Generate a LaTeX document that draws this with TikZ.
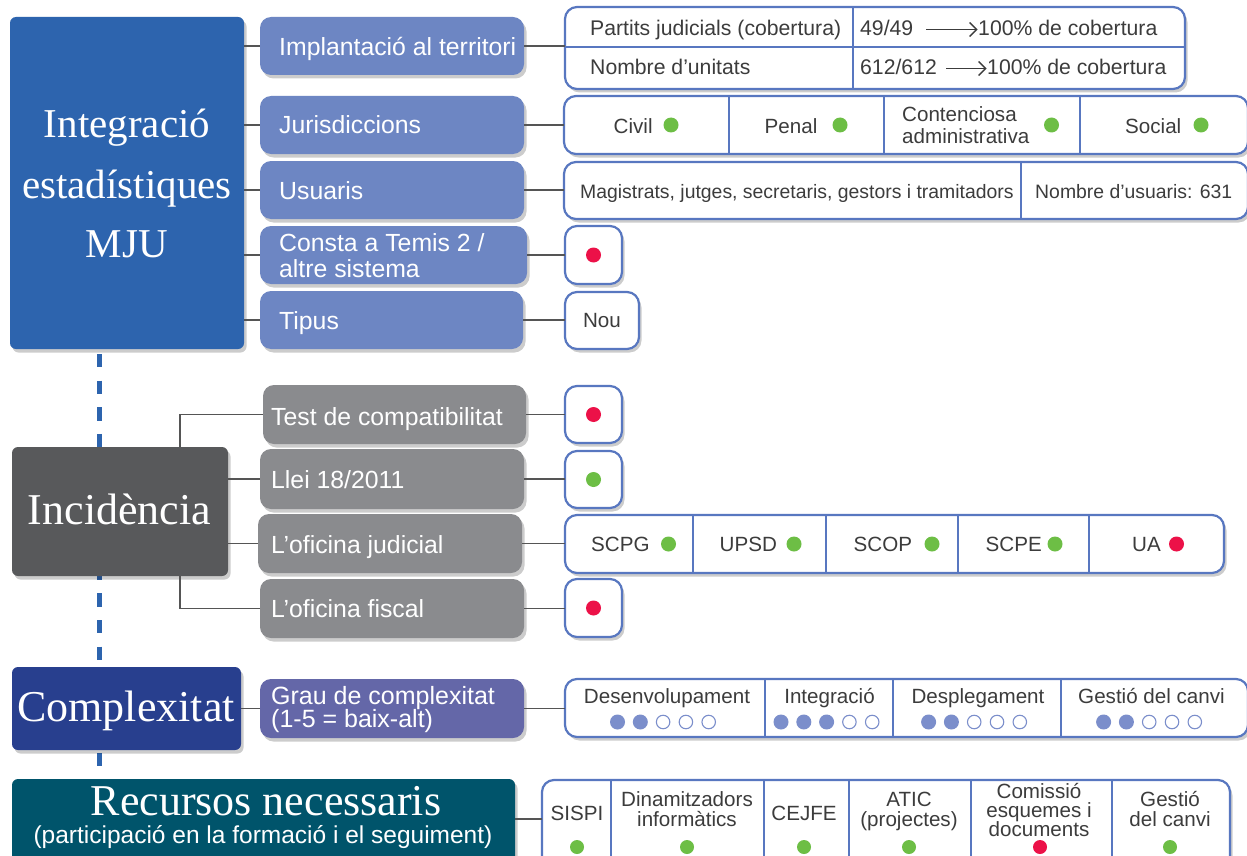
\documentclass[tikz,border=0pt]{standalone}
\usepackage{fontspec}
\setmainfont{Liberation Serif}
\setsansfont{Liberation Sans}
\usetikzlibrary{shadows,arrows.meta}
\definecolor{cBlue}{HTML}{2D64AE}
\definecolor{cSub}{HTML}{6D86C3}
\definecolor{cDark}{HTML}{58595B}
\definecolor{cGraySub}{HTML}{8A8B8E}
\definecolor{cNavy}{HTML}{283F8E}
\definecolor{cGrau}{HTML}{6467A8}
\definecolor{cTeal}{HTML}{00546B}
\definecolor{cBorder}{HTML}{5877C0}
\definecolor{cGreen}{HTML}{6DBE45}
\definecolor{cRed}{HTML}{EC1148}
\definecolor{cDot}{HTML}{7B8ECB}
\definecolor{cLine}{HTML}{555555}
\definecolor{cText}{HTML}{3C3C3C}
\tikzset{
 box/.style={anchor=north west, inner sep=0pt, outer sep=0pt},
 shd/.style={drop shadow={shadow xshift=2.5pt,shadow yshift=-3.5pt,opacity=0.2,fill=black}},
 bigbox/.style={box, rounded corners=6pt, shd},
 subbox/.style={box, rounded corners=11pt, shd},
 tbl/.style={box, draw=cBorder, line width=2.2pt, fill=white, rounded corners=12pt, shd},
 conn/.style={draw=cLine, line width=1.6pt},
 divl/.style={draw=cBorder, line width=2pt},
 bigtxt/.style={inner sep=0pt, anchor=base, text=white, font=\fontsize{41}{41}\selectfont},
 subtxt/.style={inner sep=0pt, anchor=base west, text=white, font=\sffamily\fontsize{24.8}{26}\selectfont},
 cell/.style={inner sep=0pt, anchor=base west, text=cText, font=\sffamily\fontsize{20.6}{20}\selectfont},
 cellc/.style={cell, anchor=base},
 gdot/.style={circle, fill=cGreen, minimum size=15pt, inner sep=0pt},
 rdot/.style={circle, fill=cRed, minimum size=15pt, inner sep=0pt},
 fdot/.style={circle, fill=cDot, minimum size=15pt, inner sep=0pt},
 odot/.style={circle, draw=cDot, line width=1.1pt, fill=white, minimum size=13.5pt, inner sep=0pt},
 arr/.style={draw=cText, line width=1.4pt, -{Straight Barb[length=7pt,width=14pt,line width=1.4pt]}},
}
\newcommand{\cplxdots}[4]{%
 \foreach \i in {1,...,5}{%
   \pgfmathsetmacro{\xx}{#2+(\i-1)*22.8}%
   \ifnum\i>#4\relax
     \node[odot] (#1\i) at (\xx,#3) {};
   \else
     \node[fdot] (#1\i) at (\xx,#3) {};
   \fi
 }}
\begin{document}
\begin{tikzpicture}[x=1pt,y=-1pt]
\useasboundingbox (0,0) rectangle (1247,856);
\fill[white] (0,0) rectangle (1247,856);
% dashed spine
\draw[cBlue, line width=5pt, dash pattern=on 13.3pt off 13.3pt] (99,354) -- (99,779);

% ===== Section 1 =====
\node[bigbox, fill=cBlue, minimum width=234pt, minimum height=332pt] (mju) at (10,17) {};
\node[bigtxt] (mjuA) at (127,138) {Integració};
\node[bigtxt] (mjuB) at (127,198) {estadístiques};
\node[bigtxt] (mjuC) at (127,257) {MJU};

\node[subbox, fill=cSub, minimum width=264pt, minimum height=58pt] (s1) at (260,17) {};
\node[subbox, fill=cSub, minimum width=264pt, minimum height=58pt] (s2) at (260,96) {};
\node[subbox, fill=cSub, minimum width=264pt, minimum height=58pt] (s3) at (260,161) {};
\node[subbox, fill=cSub, minimum width=267pt, minimum height=58pt] (s4) at (260,226) {};
\node[subbox, fill=cSub, minimum width=263pt, minimum height=58pt] (s5) at (260,291) {};
\node[subtxt] (s1t) at (279,56) {Implantació al territori};
\node[subtxt] (s2t) at (279,134) {Jurisdiccions};
\node[subtxt] (s3t) at (279,199) {Usuaris};
\node[subtxt] (s4t) at (279,251.5) {Consta a Temis 2 /};
\node[subtxt] (s4u) at (279,277.5) {altre sistema};
\node[subtxt] (s5t) at (279,329) {Tipus};

\foreach \s in {s1,s2,s3,s4,s5}{\draw[conn] (mju.east |- \s.west) -- (\s.west);}

% table 1
\node[tbl, minimum width=620pt, minimum height=82pt] (t1) at (565,7) {};
\draw[divl] (565,47) -- (1185,47);
\draw[divl] (852.5,7) -- (852.5,89);
\node[cell, font=\sffamily\fontsize{21.2}{20}\selectfont] (t1a) at (590,36) {Partits judicials (cobertura)};
\node[cell, font=\sffamily\fontsize{21.2}{20}\selectfont] (t1b) at (590,75) {Nombre d’unitats};
\node[cell, font=\sffamily\fontsize{21.2}{20}\selectfont] (t1c) at (860,36) {49/49};
\node[cell, font=\sffamily\fontsize{21.2}{20}\selectfont] (t1d) at (860,75) {612/612};
\node[cell, font=\sffamily\fontsize{21.2}{20}\selectfont] (t1e) at (978,36) {100\% de cobertura};
\node[cell, font=\sffamily\fontsize{21.2}{20}\selectfont] (t1f) at (987,75) {100\% de cobertura};
\draw[arr] ([xshift=13pt,yshift=6.5pt]t1c.base east) -- ([xshift=-0.5pt,yshift=6.5pt]t1e.base west);
\draw[arr] ([xshift=9pt,yshift=6.5pt]t1d.base east) -- ([xshift=-0.5pt,yshift=6.5pt]t1f.base west);

% table 2
\node[tbl, minimum width=684pt, minimum height=58pt] (t2) at (564,96) {};
\foreach \x in {728.5,884,1080}{\draw[divl] (\x,96) -- (\x,154);}
\node[cell] (t2a) at (613.5,133) {Civil};
\node[gdot] (t2ad) at (671,125) {};
\node[cell] (t2b) at (764.5,133) {Penal};
\node[gdot] (t2bd) at (840,125) {};
\node[cell] (t2c) at (902,121.5) {Contenciosa};
\node[cell] (t2c2) at (902,143) {administrativa};
\node[gdot] (t2cd) at (1051.5,125) {};
\node[cell] (t2e) at (1125,133) {Social};
\node[gdot] (t2ed) at (1201,125) {};

% table 3
\node[tbl, minimum width=684pt, minimum height=57pt] (t3) at (564,162) {};
\draw[divl] (1021,162) -- (1021,219);
\node[cell, font=\sffamily\fontsize{19.4}{20}\selectfont] (t3a) at (580,198.5) {Magistrats, jutges, secretaris, gestors i tramitadors};
\node[cell, font=\sffamily\fontsize{19.4}{20}\selectfont] (t3b) at (1035,198.5) {Nombre d’usuaris: 631};

% status boxes
\node[tbl, minimum width=57pt, minimum height=58pt] (d4) at (565,226) {};
\node[rdot] (d4d) at (d4.center) {};
\node[tbl, minimum width=74pt, minimum height=57pt] (d5) at (565,292) {};
\node[cellc] (d5t) at (602,327) {Nou};

\draw[conn] (s1.east) -- (s1.east -| t1.west);
\draw[conn] (s2.east) -- (s2.east -| t2.west);
\draw[conn] (s3.east) -- (s3.east -| t3.west);
\draw[conn] (s4.east) -- (s4.east -| d4.west);
\draw[conn] (s5.east) -- (s5.east -| d5.west);

% ===== Section 2 =====
\coordinate (bx) at (180,0);
\node[bigbox, fill=cDark, minimum width=216pt, minimum height=129pt] (inc) at (12,447) {};
\node[bigtxt, font=\fontsize{44}{44}\selectfont] (inct) at (119.5,524) {Incidència};

\node[subbox, fill=cGraySub, minimum width=263pt, minimum height=59pt] (g1) at (263,385) {};
\node[subbox, fill=cGraySub, minimum width=264pt, minimum height=60pt] (g2) at (260,449) {};
\node[subbox, fill=cGraySub, minimum width=264pt, minimum height=59pt] (g3) at (258,514) {};
\node[subbox, fill=cGraySub, minimum width=264pt, minimum height=59pt] (g4) at (260,579) {};
\node[subtxt] (g1t) at (271,425) {Test de compatibilitat};
\node[subtxt] (g2t) at (271,488) {Llei 18/2011};
\node[subtxt] (g3t) at (271,553) {L’oficina judicial};
\node[subtxt] (g4t) at (271,617.5) {L’oficina fiscal};

\draw[conn] (inc.north -| bx) |- (g1.west);
\draw[conn] (inc.south -| bx) |- (g4.west);
\draw[conn] (inc.east |- g2.west) -- (g2.west);
\draw[conn] (inc.east |- g3.west) -- (g3.west);

\node[tbl, minimum width=57pt, minimum height=57pt] (e1) at (565,386) {};
\node[rdot] (e1d) at (e1.center) {};
\node[tbl, minimum width=57pt, minimum height=57pt] (e2) at (565,451) {};
\node[gdot] (e2d) at (e2.center) {};
\node[tbl, minimum width=659pt, minimum height=58pt] (e3) at (565,515) {};
\foreach \x in {693,826,958,1089}{\draw[divl] (\x,515) -- (\x,573);}
\node[cell] (e3a) at (591,551.5) {SCPG};
\node[gdot] (e3ad) at (668.5,544) {};
\node[cell] (e3b) at (719.5,551.5) {UPSD};
\node[gdot] (e3bd) at (794,544) {};
\node[cell] (e3c) at (853.5,551.5) {SCOP};
\node[gdot] (e3cd) at (932,544) {};
\node[cell] (e3e) at (985.5,551.5) {SCPE};
\node[gdot] (e3ed) at (1055,544) {};
\node[cell] (e3f) at (1132,551.5) {UA};
\node[rdot] (e3fd) at (1176.5,544) {};
\node[tbl, minimum width=57pt, minimum height=58pt] (e4) at (565,579) {};
\node[rdot] (e4d) at (e4.center) {};

\draw[conn] (g1.east) -- (g1.east -| e1.west);
\draw[conn] (g2.east) -- (g2.east -| e2.west);
\draw[conn] (g3.east) -- (g3.east -| e3.west);
\draw[conn] (g4.east) -- (g4.east -| e4.west);

% ===== Section 3 =====
\node[bigbox, fill=cNavy, minimum width=229pt, minimum height=83pt] (cx) at (12,667) {};
\node[bigtxt, font=\fontsize{44}{44}\selectfont] (cxt) at (126,721) {Complexitat};
\node[subbox, fill=cGrau, minimum width=264pt, minimum height=59pt] (gr) at (260,679) {};
\node[subtxt, font=\sffamily\fontsize{25}{26}\selectfont] (grt) at (271,704) {Grau de complexitat};
\node[subtxt, font=\sffamily\fontsize{25}{26}\selectfont] (gru) at (271,727) {(1-5 = baix-alt)};
\node[tbl, minimum width=683pt, minimum height=58pt] (ct) at (565,679) {};
\foreach \x in {764.5,893,1060.7}{\draw[divl] (\x,679) -- (\x,737);}
\node[cellc] (ct1) at (667,703) {Desenvolupament};
\node[cellc] (ct2) at (829.5,703) {Integració};
\node[cellc] (ct3) at (978,703) {Desplegament};
\node[cellc] (ct4) at (1151.5,703) {Gestió del canvi};
\cplxdots{da}{617.5}{722}{2}
\cplxdots{db}{781}{722}{3}
\cplxdots{dc}{928.6}{722}{2}
\cplxdots{dd}{1103.6}{722}{2}
\draw[conn] (cx.east) -- (gr.west);
\draw[conn] (gr.east) -- (gr.east -| ct.west);

% ===== Section 4 =====
\coordinate (ry) at (0,819);
\node[bigbox, fill=cTeal, minimum width=503pt, minimum height=100pt] (rc) at (12,779) {};
\node[bigtxt, font=\fontsize{44}{44}\selectfont] (rct) at (266,815) {Recursos necessaris};
\node[inner sep=0pt, anchor=base, text=white, font=\sffamily\fontsize{24.5}{25}\selectfont] (rcu) at (263,843) {(participació en la formació i el seguiment)};
\node[tbl, minimum width=688pt, minimum height=100pt] (rt) at (542,780) {};
\foreach \x in {611,764,849,971,1111.7}{\draw[divl] (\x,780) -- (\x,880);}
\node[cellc] (r1t) at (577,820) {SISPI};
\node[cellc] (r2t) at (687,806) {Dinamitzadors};
\node[cellc] (r2u) at (687,826.5) {informàtics};
\node[cellc] (r3t) at (804,820) {CEJFE};
\node[cellc] (r4t) at (909,806) {ATIC};
\node[cellc] (r4u) at (909,826.5) {(projectes)};
\node[cellc] (r5t) at (1039,798) {Comissió};
\node[cellc] (r5u) at (1039,817.5) {esquemes i};
\node[cellc] (r5v) at (1039,836.5) {documents};
\node[cellc] (r6t) at (1170,806) {Gestió};
\node[cellc] (r6u) at (1170,826.5) {del canvi};
\node[gdot, minimum size=14pt] (r1d) at (577,847) {};
\node[gdot, minimum size=14pt] (r2d) at (687,847) {};
\node[gdot, minimum size=14pt] (r3d) at (804,847) {};
\node[gdot, minimum size=14pt] (r4d) at (909,847) {};
\node[rdot, minimum size=14pt] (r5d) at (1040,847) {};
\node[gdot, minimum size=14pt] (r6d) at (1170,847) {};
\draw[conn] (rc.east |- ry) -- (rt.west |- ry);
\end{tikzpicture}
\end{document}
